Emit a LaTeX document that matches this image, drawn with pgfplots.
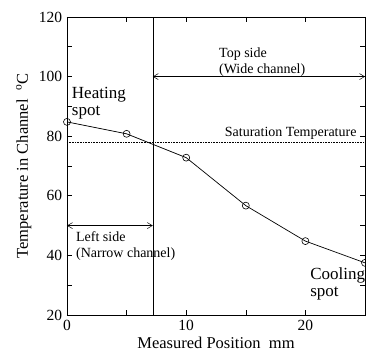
\documentclass[border=0pt]{standalone}
\usepackage{fontspec}
\setmainfont{Liberation Serif}
\usepackage{pgfplots}
\pgfplotsset{compat=1.18}
\usetikzlibrary{arrows.meta}

\begin{document}
\fontsize{14}{16}\selectfont
\begin{tikzpicture}[x=1pt,y=1pt]
\begin{axis}[
    scale only axis,
    width=298pt, height=298pt,
    at={(0,0)}, anchor=south west,
    xmin=0, xmax=25, ymin=20, ymax=120,
    xtick={0,10,20}, minor xtick={5,15,25},
    ytick={20,40,...,120}, minor ytick={30,50,...,110},
    tick align=inside,
    major tick length=5pt, minor tick length=5pt,
    tick style={black, line width=0.6pt},
    axis line style={line width=0.8pt},
    /pgf/number format/assume math mode=true,
    tick label style={font=\fontsize{15.5}{16}\selectfont},
    label style={font=\fontsize{16.5}{17}\selectfont},
    xlabel={Measured Position\ \ mm},
    ylabel={Temperature in Channel\ \ \textsuperscript{o}C},
    xlabel style={yshift=3pt},
    ylabel style={yshift=-2pt},
    clip=false,
]
% saturation temperature
\addplot[black, densely dotted, line width=0.6pt] coordinates {(0,78) (25,78)};
% boundary between narrow and wide channel
\addplot[black, line width=0.6pt] coordinates {(7.2,20) (7.2,120)};
% arrows
\addplot[black, line width=0.5pt, {Straight Barb[length=5pt,width=6pt]}-{Straight Barb[length=5pt,width=6pt]}] coordinates {(7.2,100) (25,100)};
\addplot[black, line width=0.5pt, {Straight Barb[length=5pt,width=6pt]}-{Straight Barb[length=5pt,width=6pt]}] coordinates {(0,50) (7.2,50)};
% measured temperatures
\addplot[black, line width=0.7pt, mark=o, mark size=3.5pt, mark options={fill=white, line width=0.6pt}]
  coordinates {(0,84.8) (5,80.8) (10,72.8) (15,56.7) (20,44.8) (25,37.5)};

\node[anchor=west, align=left, inner sep=0pt, font=\fontsize{17}{17}\selectfont] at (axis cs:0.4,91) {Heating\\spot};
\node[anchor=west, align=left, inner sep=0pt] at (axis cs:12.75,105) {Top side\\(Wide channel)};
\node[anchor=east, inner sep=0pt] at (axis cs:24.3,80.8) {Saturation Temperature};
\node[anchor=west, align=left, inner sep=0pt] at (axis cs:0.75,43.3) {Left side\\(Narrow channel)};
\node[anchor=west, align=left, inner sep=0pt, font=\fontsize{17}{17}\selectfont] at (axis cs:20.4,30.4) {Cooling\\spot};
\end{axis}
\pgfresetboundingbox
\path[use as bounding box] (-67,-38) rectangle (299,315);
\end{tikzpicture}
\end{document}
